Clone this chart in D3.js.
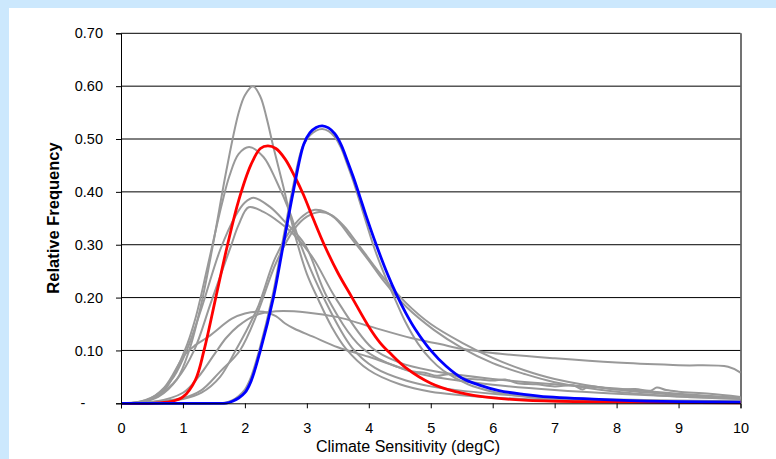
<!DOCTYPE html>
<html>
<head>
<meta charset="utf-8">
<script src="https://cdn.jsdelivr.net/npm/d3@7"></script>
<style>
  body { margin: 0; background: #cce8fd; }
  svg { display: block; }
</style>
</head>
<body>
<script>
const width = 776
const height = 459

// tick values
const xTicks = [0, 1, 2, 3, 4, 5, 6, 7, 8, 9, 10];
const yTicks = [0, 0.1, 0.2, 0.3, 0.4, 0.5, 0.6, 0.7];

// highlighted distributions [sensitivity, frequency]
const redSeries = [[0,0],[0.5,0],[0.8,0.003],[1.0,0.012],[1.2,0.044],[1.34,0.10],[1.53,0.20],[1.72,0.30],
  [1.9,0.384],[2.1,0.452],[2.25,0.482],[2.37,0.487],[2.5,0.482],[2.65,0.462],[2.8,0.43],[2.94,0.396],
  [3.1,0.35],[3.28,0.30],[3.5,0.247],[3.73,0.20],[4.0,0.145],[4.18,0.115],[4.35,0.094],[4.6,0.067],
  [5.0,0.038],[5.4,0.022],[5.8,0.013],[6.5,0.006],[7.5,0.003],[10,0.001]];

const blueSeries = [[0,0],[1.5,0],[1.7,0.0005],[1.8,0.004],[1.9,0.01],[2.0,0.02],[2.1,0.042],[2.25,0.10],
  [2.46,0.20],[2.62,0.30],[2.78,0.40],[2.95,0.49],[3.05,0.512],[3.15,0.522],[3.25,0.525],[3.35,0.521],
  [3.45,0.51],[3.55,0.49],[3.65,0.46],[3.75,0.428],[3.85,0.393],[3.95,0.357],[4.12,0.30],[4.3,0.245],
  [4.45,0.205],[4.6,0.17],[4.75,0.14],[5.0,0.10],[5.25,0.07],[5.5,0.048],[5.8,0.034],[6.1,0.024],
  [6.5,0.017],[6.9,0.012],[8,0.006],[9,0.003],[10,0.002]];

// other distributions (grey)
const greyTall = [[0,0],[0.3,0.002],[0.6,0.012],[0.9,0.045],[1.1,0.10],[1.3,0.19],[1.5,0.31],[1.7,0.44],
  [1.9,0.55],[2.0,0.583],[2.13,0.60],[2.25,0.58],[2.35,0.54],[2.46,0.485],[2.62,0.41],[2.73,0.355],
  [2.84,0.305],[3.0,0.245],[3.19,0.195],[3.4,0.145],[3.62,0.105],[4.0,0.063],[4.5,0.036],[5,0.022],
  [6,0.011],[7,0.006],[8,0.004],[10,0.002]];

const greyEarly = [[0,0],[0.4,0.004],[0.7,0.025],[1.03,0.10],[1.2,0.16],[1.4,0.26],[1.63,0.378],[1.75,0.43],
  [1.9,0.472],[2.07,0.485],[2.3,0.466],[2.51,0.42],[2.73,0.36],[2.9,0.30],[3.27,0.20],[3.73,0.105],
  [4.1,0.067],[4.6,0.043],[5,0.032],[6,0.018],[7,0.011],[8,0.007],[10,0.004]];

const greyLowA = [[0,0],[0.3,0.003],[0.6,0.018],[0.85,0.05],[1.06,0.10],[1.3,0.18],[1.6,0.29],[1.85,0.355],
  [2.0,0.38],[2.14,0.389],[2.4,0.372],[2.65,0.343],[2.97,0.30],[3.33,0.20],[3.89,0.105],[4.5,0.067],
  [5,0.051],[6,0.035],[7,0.025],[8,0.018],[9,0.013],[10,0.009]];

const greyLowB = [[0,0],[0.3,0.003],[0.6,0.015],[0.9,0.045],[1.18,0.10],[1.45,0.19],[1.77,0.296],[1.9,0.338],
  [2.06,0.371],[2.3,0.362],[2.55,0.343],[2.8,0.318],[3.1,0.275],[3.46,0.20],[4.05,0.105],[4.5,0.077],
  [5,0.062],[6,0.046],[7,0.036],[8,0.028],[9,0.018],[10,0.01]];

const greyBroadA = [[0,0],[0.5,0.002],[1.0,0.008],[1.3,0.02],[1.6,0.05],[1.85,0.10],[2.0,0.132],[2.22,0.185],
  [2.49,0.275],[2.8,0.338],[3.0,0.36],[3.13,0.366],[3.3,0.362],[3.5,0.345],[3.7,0.315],[4.0,0.27],
  [4.23,0.233],[4.6,0.183],[5.05,0.139],[5.5,0.105],[6,0.076],[6.5,0.056],[7,0.04],[8,0.022],
  [9,0.013],[10,0.008]];

const greyBroadB = [[0,0],[0.5,0.003],[1.0,0.01],[1.3,0.025],[1.6,0.06],[1.92,0.10],[2.2,0.17],[2.5,0.265],
  [2.8,0.33],[3.0,0.353],[3.2,0.362],[3.4,0.356],[3.6,0.335],[3.8,0.305],[4.2,0.243],[4.6,0.19],
  [5.0,0.15],[5.5,0.115],[6,0.086],[6.5,0.063],[7,0.046],[8,0.026],[9,0.016],[10,0.01]];

const greyNearBlue = [[0,0],[1.5,0],[1.68,0.001],[1.8,0.006],[1.9,0.014],[2.0,0.026],[2.1,0.05],[2.23,0.10],
  [2.44,0.20],[2.6,0.30],[2.76,0.40],[2.93,0.485],[3.05,0.507],[3.15,0.516],[3.25,0.519],[3.35,0.515],
  [3.45,0.504],[3.55,0.484],[3.65,0.453],[3.75,0.42],[3.85,0.383],[3.95,0.345],[4.1,0.29],[4.3,0.23],
  [4.45,0.19],[4.6,0.152],[4.8,0.112],[5.0,0.083],[5.2,0.062],[5.6,0.036],[6,0.022],[6.5,0.013],
  [7,0.008],[8,0.004],[10,0.002]];

const greyFlatLong = [[0,0],[0.5,0.002],[1.0,0.02],[1.25,0.05],[1.52,0.095],[1.7,0.124],[1.89,0.146],
  [2.16,0.166],[2.5,0.174],[3.0,0.172],[3.5,0.163],[4.0,0.146],[4.7,0.123],[5.15,0.112],[5.5,0.103],
  [6,0.095],[7,0.085],[8,0.077],[9,0.072],[9.8,0.069],[10,0.058]];

const greyFlatJagged = [[0,0],[0.4,0.005],[0.7,0.03],[1.03,0.092],[1.2,0.11],[1.41,0.126],[1.79,0.16],
  [2.0,0.17],[2.3,0.173],[2.5,0.165],[2.65,0.151],[2.8,0.141],[3.1,0.126],[3.5,0.106],[4.0,0.088],
  [4.72,0.06],[4.9,0.058],[5.1,0.052],[5.3,0.055],[5.5,0.048],[5.8,0.045],[6.0,0.043],[6.2,0.045],
  [6.4,0.038],[6.7,0.036],[7.0,0.032],[7.3,0.034],[7.45,0.026],[7.55,0.032],[7.8,0.029],[8.0,0.026],
  [8.3,0.027],[8.55,0.024],[8.65,0.03],[8.8,0.025],[9,0.022],[9.5,0.018],[10,0.012]];

const greySeries = [greyTall, greyEarly, greyLowA, greyLowB, greyBroadA, greyBroadB,
  greyNearBlue, greyFlatLong, greyFlatJagged];

const svg = d3.select("body").append("svg")
    .attr("width", width)
    .attr("height", height);

// white chart panel over the blue page
svg.append("rect")
    .attr("x", 9).attr("y", 8)
    .attr("width", width - 9).attr("height", height - 8)
    .attr("fill", "#ffffff");

const x = d3.scaleLinear().domain([0, 10]).range([121, 740.5]);
const y = d3.scaleLinear().domain([0, 0.7]).range([403.3, 33.3]);

// gridlines
svg.append("g")
  .selectAll("line")
  .data(yTicks.filter(d => d > 0))
  .enter()
  .append("line")
    .attr("x1", x(0)).attr("x2", x(10))
    .attr("y1", d => y(d)).attr("y2", d => y(d))
    .attr("stroke", "#000")
    .attr("stroke-width", 1);

// right edge of plot area
svg.append("line")
    .attr("x1", x(10) + 0.5).attr("x2", x(10) + 0.5)
    .attr("y1", y(0.7)).attr("y2", y(0))
    .attr("stroke", "#444")
    .attr("stroke-width", 1.5);

const line = d3.line()
    .x(d => x(d[0]))
    .y(d => Math.min(y(0), y(d[1])))
    .curve(d3.curveCatmullRom.alpha(0.5));

svg.append("g")
  .selectAll("path")
  .data(greySeries)
  .enter()
  .append("path")
    .attr("d", line)
    .attr("fill", "none")
    .attr("stroke", "#999999")
    .attr("stroke-width", 2);

svg.append("path")
    .attr("d", line(redSeries))
    .attr("fill", "none")
    .attr("stroke", "#ff0000")
    .attr("stroke-width", 2.8);

svg.append("path")
    .attr("d", line(blueSeries))
    .attr("fill", "none")
    .attr("stroke", "#0000ff")
    .attr("stroke-width", 2.8);

// axes
const yAxis = d3.axisLeft(y)
    .tickValues(yTicks)
    .tickSize(5)
    .tickPadding(13)
    .tickFormat(d => d === 0 ? "" : d3.format(".2f")(d));

const xAxis = d3.axisBottom(x)
    .tickValues(xTicks)
    .tickSize(5)
    .tickPadding(14)
    .tickFormat(d3.format("d"));

const gy = svg.append("g")
    .attr("transform", `translate(${x(0)},0)`)
    .call(yAxis);

const gx = svg.append("g")
    .attr("transform", `translate(0,${y(0)})`)
    .call(xAxis);

[gx, gy].forEach(g => {
  g.select(".domain").attr("stroke", "#000");
  g.selectAll(".tick line").attr("stroke", "#000");
  g.selectAll("text")
    .attr("font-family", "Liberation Sans, Arial, sans-serif")
    .attr("font-size", 14.5)
    .attr("fill", "#000");
});

// zero shown as a dash, like the accounting format
svg.append("text")
    .attr("x", 83).attr("y", y(0))
    .attr("dy", "0.35em")
    .attr("text-anchor", "middle")
    .attr("font-family", "Liberation Sans, Arial, sans-serif")
    .attr("font-size", 14.5)
    .text("-");

svg.append("text")
    .attr("x", 408).attr("y", 451.5)
    .attr("text-anchor", "middle")
    .attr("font-family", "Liberation Sans, Arial, sans-serif")
    .attr("font-size", 16)
    .text("Climate Sensitivity (degC)");

svg.append("text")
    .attr("transform", "translate(59,218) rotate(-90)")
    .attr("text-anchor", "middle")
    .attr("font-family", "Liberation Sans, Arial, sans-serif")
    .attr("font-size", 16.5)
    .attr("font-weight", "bold")
    .text("Relative Frequency");
</script>
</body>
</html>
